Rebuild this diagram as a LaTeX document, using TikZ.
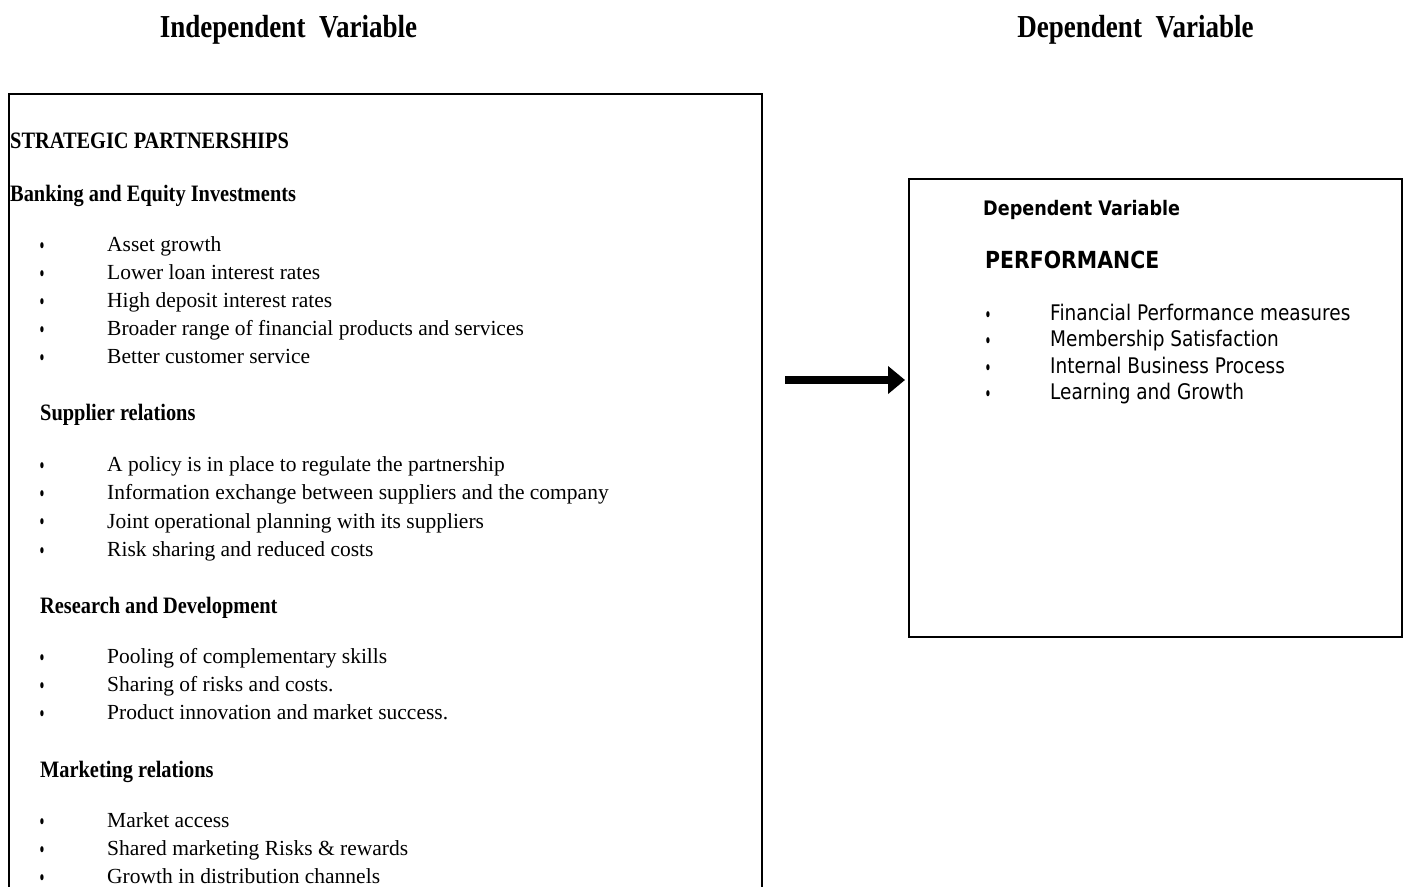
\documentclass[tikz,border=0pt]{standalone}
\usepackage{fontspec}
\usetikzlibrary{arrows.meta}
\newfontfamily\serifreg{Liberation Serif}
\newfontfamily\serifhead[FakeStretch=0.867]{Liberation Serif}
\newfontfamily\seriftitle[FakeStretch=0.845]{Liberation Serif}
\newfontfamily\sansreg[FakeStretch=0.86]{DejaVu Sans}
\newfontfamily\sanshead[FakeStretch=0.88]{DejaVu Sans}
\newfontfamily\sansperf[FakeStretch=0.87]{DejaVu Sans}
\newfontfamily\bulfont[FakeStretch=0.55]{DejaVu Sans}
\begin{document}
\begin{tikzpicture}[x=1pt,y=-1pt,
  txt/.style={inner sep=0pt,anchor=base west},
  titletxt/.style={inner sep=0pt,anchor=base,font=\seriftitle\bfseries\fontsize{32}{36}\selectfont},
  lhead/.style={txt,font=\serifhead\bfseries\fontsize{23.5}{26}\selectfont},
  litem/.style={txt,font=\serifreg\fontsize{21.5}{24}\selectfont},
  lbul/.style={inner sep=0pt,anchor=base,font=\bulfont\fontsize{21}{24}\selectfont},
  rhead/.style={txt,font=\sanshead\bfseries\fontsize{20}{24}\selectfont},
  ritem/.style={txt,font=\sansreg\fontsize{21.5}{24}\selectfont},
  boxline/.style={draw=black,line width=1.8pt}]
\useasboundingbox (0,0) rectangle (1405,886);
% titles
\node[titletxt] (tind) at (288.5,37) {Independent\ \ Variable};
\node[titletxt] (tdep) at (1135.5,37) {Dependent\ \ Variable};
% left box (open at bottom)
\draw[boxline] (9,887) -- (9,94) -- (762,94) -- (762,887);
% left content
\node[lhead] (sp) at (10,148.5) {STRATEGIC PARTNERSHIPS};
\node[lhead] (bank) at (10,201.7) {Banking and Equity Investments};
\foreach \t [count=\i] in {Asset growth,Lower loan interest rates,High deposit interest rates,Broader range of financial products and services,Better customer service}{
  \node[lbul] (bb\i) at (42,253.5+28*\i-28) {•};
  \node[litem] (bi\i) at (107,251.7+28*\i-28) {\t};
}
\node[lhead] (sup) at (40,420) {Supplier relations};
\foreach \t [count=\i] in {A policy is in place to regulate the partnership,Information exchange between suppliers and the company,Joint operational planning with its suppliers,Risk sharing and reduced costs}{
  \node[lbul] (sb\i) at (42,473.3+28.3*\i-28.3) {•};
  \node[litem] (si\i) at (107,471.5+28.3*\i-28.3) {\t};
}
\node[lhead] (rd) at (40,613) {Research and Development};
\foreach \t [count=\i] in {Pooling of complementary skills,Sharing of risks and costs.,Product innovation and market success.}{
  \node[lbul] (rb\i) at (42,665.5+28*\i-28) {•};
  \node[litem] (ri\i) at (107,663.7+28*\i-28) {\t};
}
\node[lhead] (mr) at (40,777) {Marketing relations};
\foreach \t [count=\i] in {Market access,Shared marketing Risks \& rewards,Growth in distribution channels}{
  \node[lbul] (mb\i) at (42,829.3+28*\i-28) {•};
  \node[litem] (mi\i) at (107,827.7+28*\i-28) {\t};
}
% right box
\node[boxline,inner sep=0pt,anchor=north west,minimum width=493pt,minimum height=458pt] (rbox) at (908,178) {};
\node[rhead] (rdv) at (983,215.7) {Dependent Variable};
\node[txt,font=\sansperf\bfseries\fontsize{23.5}{26}\selectfont] (perf) at (985,268.5) {PERFORMANCE};
\foreach \t [count=\i] in {Financial Performance measures,Membership Satisfaction,Internal Business Process,Learning and Growth}{
  \node[lbul] (pb\i) at (988,322+26.5*\i-26.5) {•};
  \node[ritem] (pi\i) at (1050,320+26.5*\i-26.5) {\t};
}
% arrow
\coordinate (astart) at (785,380);
\draw[line width=8pt,-{Triangle[length=17pt,width=27pt]},shorten >=3pt] (astart) -- (astart -| rbox.west);
\end{tikzpicture}
\end{document}
